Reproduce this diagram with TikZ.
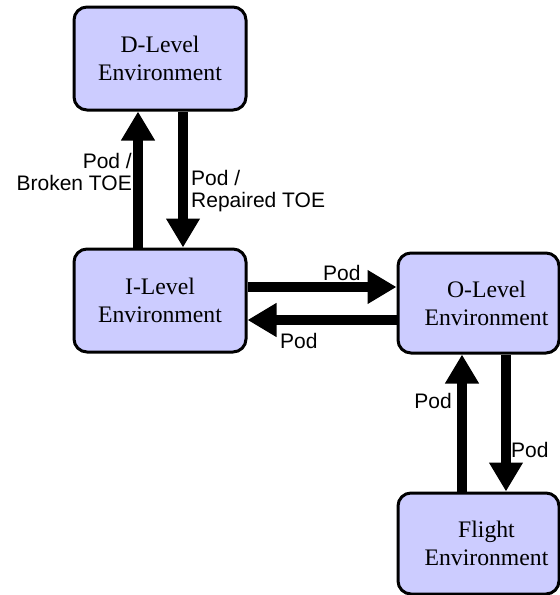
\documentclass[tikz,border=0pt]{standalone}
\usepackage{fontspec}
\setmainfont{Liberation Serif}
\newfontfamily\labelfont{Liberation Sans}
\usetikzlibrary{arrows.meta}
\definecolor{boxfill}{HTML}{CCCCFF}
\newcommand{\padl}{\hspace*{16pt}}
\tikzset{
  envbox/.style={draw=black, line width=3pt, fill=boxfill, rounded corners=13pt,
    minimum width=172pt, minimum height=103pt, align=center, inner sep=0pt,
    font=\fontsize{23.7}{28}\selectfont},
  bigarrow/.style={line width=10pt, -{Triangle[length=29pt,width=32pt]}},
  lbl/.style={inner sep=0pt, font=\labelfont\fontsize{21}{22}\selectfont},
}
\begin{document}
\begin{tikzpicture}[x=1pt,y=-1pt]
\useasboundingbox (0,0) rectangle (560,595);
\node[envbox] (D) at (160,58.5) {D-Level\\Environment};
\node[envbox] (I) at (160,300.5) {I-Level\\Environment};
\node[envbox, minimum width=161pt, minimum height=100pt] (O) at (478.5,303) {\padl O-Level\\\padl Environment};
\node[envbox, minimum width=161pt, minimum height=101pt] (F) at (478.5,543.5) {\padl Flight\\\padl Environment};
% I <-> D
\coordinate (ia) at ([xshift=-22pt]I.north);
\coordinate (db) at ([xshift=23pt]D.south);
\draw[bigarrow] (ia) -- (ia |- D.south);
\draw[bigarrow] (db) -- (db |- I.north);
% I <-> O
\coordinate (ie) at ([yshift=13.5pt]I.east);
\coordinate (ow) at ([yshift=-17pt]O.west);
\draw[bigarrow] (ie) -- (ie -| O.west);
\draw[bigarrow] (ow) -- (ow -| I.east);
% F <-> O
\coordinate (fn) at ([xshift=-16.5pt]F.north);
\coordinate (os) at ([xshift=27.5pt]O.south);
\draw[bigarrow] (fn) -- (fn |- O.south);
\draw[bigarrow] (os) -- (os |- F.north);
% labels
\node[lbl, align=right, anchor=north east] (l1) at (132,153) {Pod /\\Broken TOE};
\node[lbl, align=left, anchor=north west] (l2) at (191,170) {Pod /\\Repaired TOE};
\node[lbl, anchor=base west] (l3) at (323,280) {Pod};
\node[lbl, anchor=base west] (l4) at (280,348) {Pod};
\node[lbl, anchor=base east] (l5) at (452,408) {Pod};
\node[lbl, anchor=base west] (l6) at (511,457) {Pod};
\end{tikzpicture}
\end{document}
